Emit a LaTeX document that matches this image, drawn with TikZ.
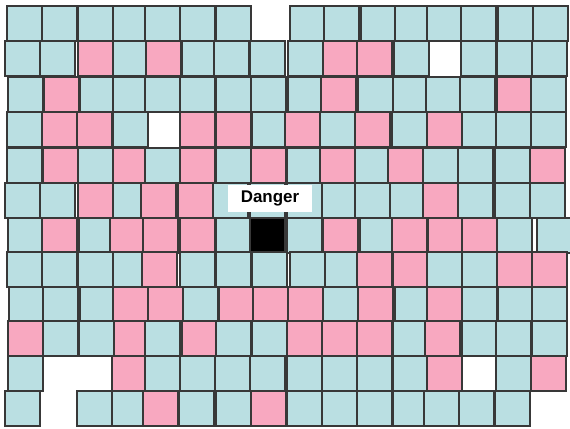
\documentclass[tikz,border=0pt]{standalone}
\usepackage{fontspec}
\setmainfont{Liberation Sans}
\usetikzlibrary{positioning}
\definecolor{sky}{HTML}{BADFE2}
\definecolor{rose}{HTML}{F8A8C0}
\definecolor{edge}{HTML}{383838}
\tikzset{
  tb/.style={draw=edge,line width=1.4bp,fill=sky},
  tp/.style={tb,fill=rose},
  tk/.style={tb,fill=black},
  tag/.style={fill=white,inner sep=0pt,minimum width=84bp,minimum height=27bp,font=\fontsize{17}{19}\selectfont\bfseries},
}

\begin{document}
\begin{tikzpicture}[x=1bp,y=-1bp]
\useasboundingbox (0,0) rectangle (570,428);
% tiles, one row per entry: top edge / left edges with fill
\foreach \ty/\row in {
  6/{7/tb,42/tb,78/tb,113/tb,145/tb,180/tb,216/tb,290/tb,324/tb,361/tb,395/tb,427/tb,461/tb,498/tb,533/tb},
  41/{5/tb,40/tb,78/tp,113/tb,146/tp,182/tb,214/tb,250/tb,288/tb,323/tp,357/tp,394/tb,461/tb,497/tb,532/tb},
  77/{8/tb,44/tp,80/tb,113/tb,145/tb,180/tb,216/tb,251/tb,288/tb,321/tp,358/tb,393/tb,426/tb,460/tb,497/tp,531/tb},
  112/{7/tb,42/tp,77/tp,113/tb,180/tp,216/tp,252/tb,285/tp,320/tb,355/tp,392/tb,427/tp,462/tb,496/tb,531/tb},
  148/{7/tb,43/tp,78/tb,113/tp,145/tb,180/tp,216/tb,251/tp,287/tb,320/tp,355/tb,388/tp,423/tb,458/tb,495/tb,530/tp},
  183/{5/tb,40/tb,78/tp,113/tb,141/tp,178/tp,213/tb,250/tb,287/tb,322/tb,355/tb,390/tb,423/tp,458/tb,495/tb,530/tb},
  218/{8/tb,42/tp,79/tb,110/tp,143/tp,180/tp,216/tb,250/tk,287/tb,323/tp,360/tb,392/tp,428/tp,462/tp,497/tb,537/tb},
  252/{7/tb,42/tb,78/tb,113/tb,142/tp,180/tb,216/tb,252/tb,290/tb,325/tb,357/tp,393/tp,427/tb,462/tb,497/tp,532/tp},
  287/{9/tb,43/tb,80/tb,113/tp,148/tp,183/tb,219/tp,253/tp,288/tp,323/tb,358/tp,395/tb,427/tp,462/tb,498/tb,532/tb},
  321/{8/tp,43/tb,79/tb,114/tp,145/tb,182/tp,216/tb,252/tb,287/tp,322/tp,357/tp,393/tb,425/tp,462/tb,496/tb,532/tb},
  356/{8/tb,112/tp,145/tb,180/tb,215/tb,250/tb,287/tb,322/tb,357/tb,393/tb,427/tp,496/tb,531/tp},
  391/{5/tb,77/tb,112/tb,143/tp,179/tb,216/tb,251/tp,287/tb,322/tb,357/tb,393/tb,424/tb,459/tb,495/tb}}
  \foreach \tx/\tf in \row
    \draw[\tf] (\tx,\ty) rectangle ++(35,35);
% label over the dark tile
\node[tag] (danger) at (270,198.5) {Danger};
\end{tikzpicture}
\end{document}
